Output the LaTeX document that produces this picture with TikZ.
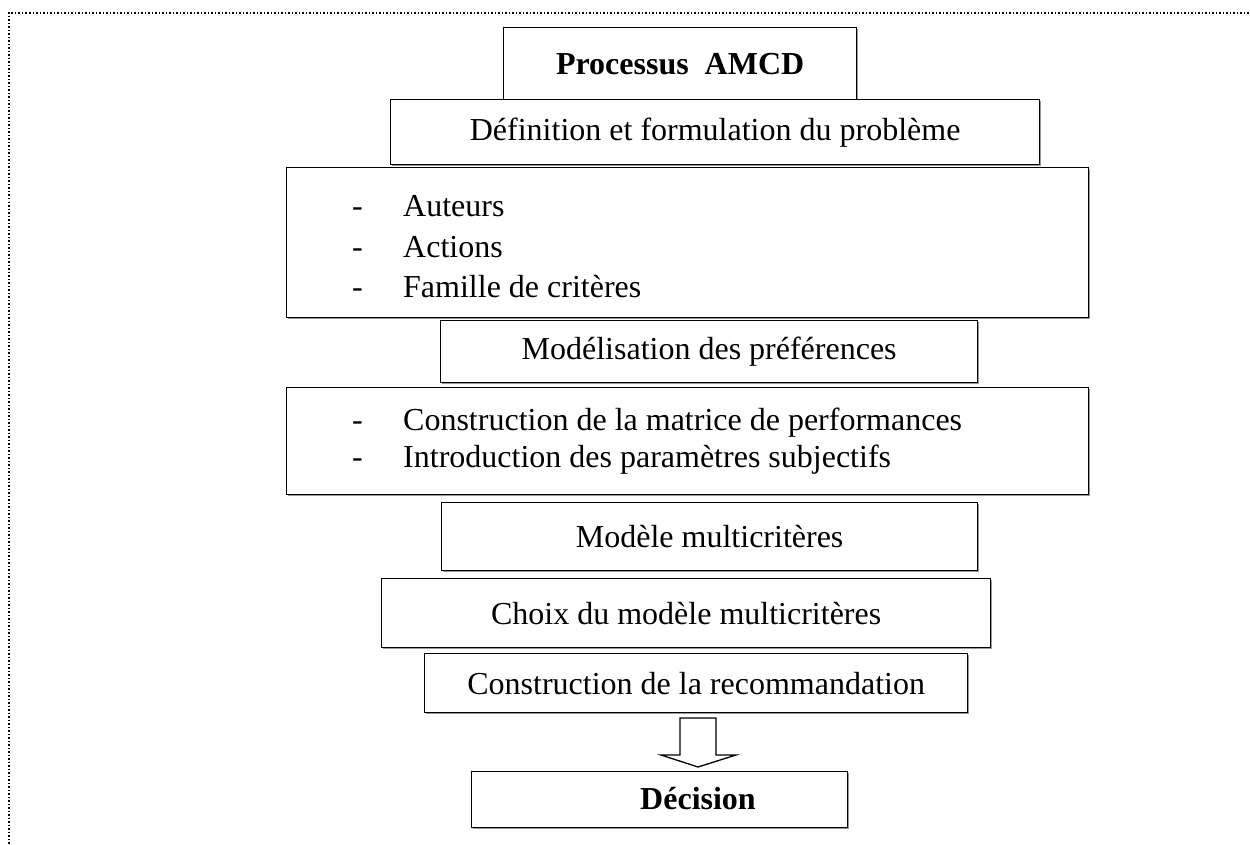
\documentclass[tikz,border=0pt]{standalone}
\usepackage{fontspec}
\setmainfont{Liberation Serif}
\usetikzlibrary{shadows}
\begin{document}
\begin{tikzpicture}[x=1pt,y=-1pt,
  txt/.style={font=\fontsize{32}{40}\selectfont, inner sep=0pt},
  box/.style={draw, line width=1.3pt, fill=white, inner sep=0pt, anchor=north west,
              font=\fontsize{32}{40}\selectfont,
              drop shadow={shadow xshift=1.6pt, shadow yshift=-1.6pt,
                           fill=black!40, opacity=1}},
  frame/.style={line width=1.5pt, dash pattern=on 1.5pt off 2pt},
  blockarrow/.style={draw, line width=1.3pt, fill=white, line join=miter}]
\useasboundingbox (0,0) rectangle (1250,845);

% dotted frame (top and left edges)
\coordinate (fc) at (9,13);
\coordinate (fr) at (1252,13);
\coordinate (fb) at (9,847);
\draw[frame] (fr) -- (fc) -- (fb);

% process steps
\node[box, minimum width=353, minimum height=72] (b1) at (503,27)
  {\bfseries Processus\ \ AMCD};
\node[box, minimum width=649, minimum height=65] (b2) at (390,99)
  {Définition et formulation du problème};
\node[box, minimum width=802, minimum height=150] (b3) at (286,167) {};
\node[box, minimum width=537, minimum height=62] (b4) at (440,320)
  {Modélisation des préférences};
\node[box, minimum width=802, minimum height=107] (b5) at (286,387) {};
\node[box, minimum width=536, minimum height=68] (b6) at (441,502)
  {Modèle multicritères};
\node[box, minimum width=609, minimum height=69] (b7) at (381,578)
  {Choix du modèle multicritères};
\node[box, minimum width=543, minimum height=59] (b8) at (424,653)
  {Construction de la recommandation};
\node[box, minimum width=376, minimum height=56] (b9) at (471,771) {};
\node[txt, font=\fontsize{32}{40}\selectfont\bfseries] (dec) at (698,799) {Décision};

% list items of the third box
\node[txt, anchor=base west] (d1) at (352,217) {-};
\node[txt, anchor=base west] (i1) at (403,217) {Auteurs};
\node[txt, anchor=base west] (d2) at (352,257) {-};
\node[txt, anchor=base west] (i2) at (403,257) {Actions};
\node[txt, anchor=base west] (d3) at (352,297) {-};
\node[txt, anchor=base west] (i3) at (403,297) {Famille de critères};

% list items of the fifth box
\node[txt, anchor=base west] (d4) at (352,430) {-};
\node[txt, anchor=base west] (i4) at (403,430) {Construction de la matrice de performances};
\node[txt, anchor=base west] (d5) at (352,467) {-};
\node[txt, anchor=base west] (i5) at (403,467) {Introduction des paramètres subjectifs};

% block arrow towards the decision
\coordinate (tail) at (698,718);
\draw[blockarrow] (tail) +(-18,0) -- +(-18,37) -- +(-37,37) -- +(0,49)
  -- +(38,37) -- +(18,37) -- +(18,0) -- cycle;
\end{tikzpicture}
\end{document}
